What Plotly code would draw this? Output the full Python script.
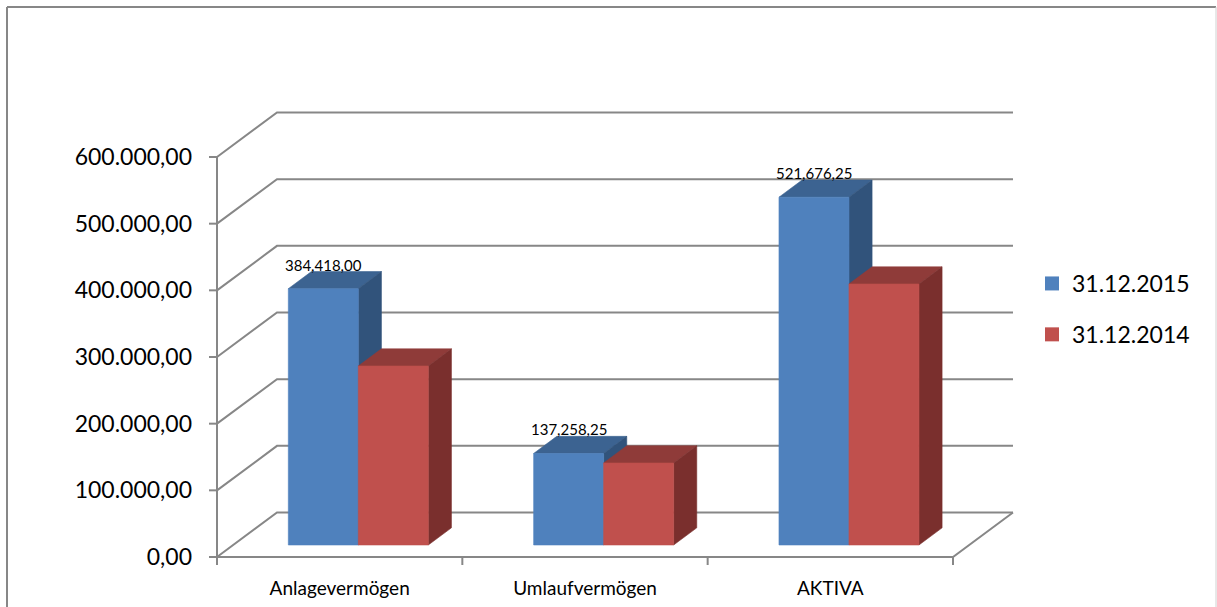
import plotly.graph_objects as go

# ---------------- data ----------------
categories = ["Anlagevermögen", "Umlaufvermögen", "AKTIVA"]
series_names = ["31.12.2015", "31.12.2014"]
values_2015 = [384418.00, 137258.25, 521676.25]
values_2014 = [268500.00, 123000.00, 391500.00]
y_tick_values = [0, 100000, 200000, 300000, 400000, 500000, 600000]

# ---------------- style ----------------
FONT = "Lato"
GRID_COLOR = "#878787"
FRONT_COLORS = ["#4F81BD", "#C0504D"]
TOP_COLORS = ["#3C6391", "#8F3B39"]
SIDE_COLORS = ["#31537B", "#7A2F2D"]

# ---------------- geometry (pixel layout -> axis ranges) ----------------
W, H = 1217, 607
PLOT_L, PLOT_R, PLOT_T, PLOT_B = 205, 1030, 100, 568
AXIS_X0_PX = 217          # front left corner of floor
ZERO_PX = 557             # front floor edge
PX_PER_CAT = 245.33
PX_PER_VAL = 400 / 600000

x_range = [(PLOT_L - AXIS_X0_PX) / PX_PER_CAT, (PLOT_R - AXIS_X0_PX) / PX_PER_CAT]
y_range = [(ZERO_PX - PLOT_B) / PX_PER_VAL, (ZERO_PX - PLOT_T) / PX_PER_VAL]

WALL_DX = 60 / PX_PER_CAT      # depth of the 3D box along x (category units)
WALL_DY = 44.5 / PX_PER_VAL    # depth of the 3D box along y (value units)
BAR_F0, BAR_F1 = 0.27, 0.655   # bar front / back depth fraction
GROUP_CENTER = 0.51
BAR_W = 70 / PX_PER_CAT
TICK_X = 8 / PX_PER_CAT
TICK_Y = 8 / PX_PER_VAL
n = len(categories)


def px_to_paper_x(px):
    return (px - PLOT_L) / (PLOT_R - PLOT_L)


def px_to_paper_y(py):
    return (PLOT_B - py) / (PLOT_B - PLOT_T)


def de_fmt(v):
    return f"{v:,.2f}".replace(",", "X").replace(".", ",").replace("X", ".")


fig = go.Figure()


def add_lines(xs, ys, color=GRID_COLOR, width=2):
    fig.add_trace(go.Scatter(x=xs, y=ys, mode="lines", line=dict(color=color, width=width),
                             hoverinfo="skip", showlegend=False))


def add_poly(xs, ys, color):
    fig.add_trace(go.Scatter(x=xs + [xs[0]], y=ys + [ys[0]], mode="lines", fill="toself",
                             fillcolor=color, line=dict(color=color, width=0.6),
                             hoverinfo="skip", showlegend=False))


# walls: back gridlines and left-wall diagonals
gx, gy = [], []
for v in y_tick_values:
    gx += [0, WALL_DX, n + WALL_DX, None]
    gy += [v, v + WALL_DY, v + WALL_DY, None]
add_lines(gx, gy)
# floor right edge and front edge
add_lines([0, n, n + WALL_DX], [0, 0, WALL_DY])
# front vertical axis
add_lines([0, 0], [0, y_tick_values[-1]])
# tick marks on y axis
tx, ty = [], []
for v in y_tick_values:
    tx += [-TICK_X, 0, None]
    ty += [v, v, None]
add_lines(tx, ty)
# tick marks on x axis
tx, ty = [], []
for i in range(n + 1):
    tx += [i, i, None]
    ty += [0, -TICK_Y, None]
add_lines(tx, ty)

# bars (front, top and side faces)
base = BAR_F0 * WALL_DY
shift_x = BAR_F0 * WALL_DX
ddx = (BAR_F1 - BAR_F0) * WALL_DX
ddy = (BAR_F1 - BAR_F0) * WALL_DY
series = [values_2015, values_2014]
for i in range(n):
    for s, vals in enumerate(series):
        x0 = i + GROUP_CENTER - BAR_W + s * BAR_W + shift_x
        x1 = x0 + BAR_W
        yb = base
        yt = base + vals[i]
        add_poly([x0, x1, x1 + ddx, x0 + ddx], [yt, yt, yt + ddy, yt + ddy], TOP_COLORS[s])
        add_poly([x1, x1 + ddx, x1 + ddx, x1], [yb, yb + ddy, yt + ddy, yt], SIDE_COLORS[s])
        add_poly([x0, x1, x1, x0], [yb, yb, yt, yt], FRONT_COLORS[s])

# data labels for 2015 series
for i in range(n):
    x_c = i + GROUP_CENTER - BAR_W / 2 + shift_x
    fig.add_annotation(x=x_c, y=base + values_2015[i] + ddy, xref="x", yref="y",
                       text=f"{values_2015[i]:,.2f}".replace(".", ","), showarrow=False,
                       yanchor="bottom", xanchor="center", yshift=-4,
                       font=dict(family=FONT, size=15, color="#000000"))

# legend entries
for s, name in enumerate(series_names):
    fig.add_trace(go.Scatter(x=[None], y=[None], mode="markers", name=name,
                             marker=dict(symbol="square", size=14, color=FRONT_COLORS[s]),
                             legendgroup=name))

fig.update_layout(
    width=W, height=H, autosize=False,
    margin=dict(l=PLOT_L, r=W - PLOT_R, t=PLOT_T, b=H - PLOT_B, autoexpand=False),
    paper_bgcolor="white", plot_bgcolor="white",
    font=dict(family=FONT, color="#000000"),
    showlegend=True,
    legend=dict(x=px_to_paper_x(1032), xanchor="left", y=px_to_paper_y(309), yanchor="middle",
                font=dict(family=FONT, size=23, color="#000000"), tracegroupgap=18,
                bgcolor="rgba(0,0,0,0)"),
    xaxis=dict(range=x_range, showgrid=False, zeroline=False, showline=False, ticks="",
               tickvals=[i + 0.5 for i in range(n)], ticktext=categories,
               ticklabelstandoff=7,
               tickfont=dict(family=FONT, size=19, color="#000000"), fixedrange=True),
    yaxis=dict(range=y_range, showgrid=False, zeroline=False, showline=False, ticks="",
               tickvals=y_tick_values, ticktext=[de_fmt(v) for v in y_tick_values],
               ticklabelstandoff=12,
               tickfont=dict(family=FONT, size=23, color="#000000"), fixedrange=True),
    shapes=[
        dict(type="line", xref="paper", yref="paper", x0=px_to_paper_x(7), x1=px_to_paper_x(1216),
             y0=px_to_paper_y(7), y1=px_to_paper_y(7), line=dict(color="#878787", width=2)),
        dict(type="line", xref="paper", yref="paper", x0=px_to_paper_x(7), x1=px_to_paper_x(7),
             y0=px_to_paper_y(7), y1=px_to_paper_y(620), line=dict(color="#878787", width=2)),
        dict(type="line", xref="paper", yref="paper", x0=px_to_paper_x(1216), x1=px_to_paper_x(1216),
             y0=px_to_paper_y(7), y1=px_to_paper_y(620), line=dict(color="#d0d0d0", width=1)),
    ],
)

fig.write_html("out.html")
